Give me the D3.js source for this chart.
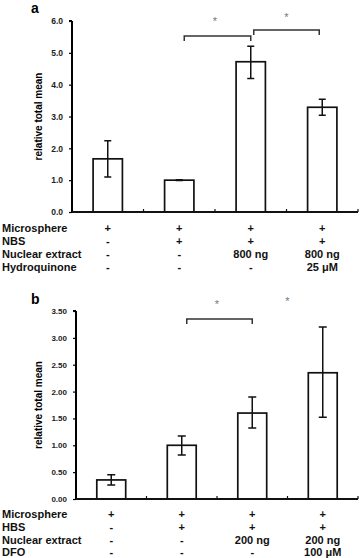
<!DOCTYPE html>
<html><head><meta charset="utf-8">
<script src="https://cdn.jsdelivr.net/npm/d3@7"></script>
<style>body{margin:0;background:#fff}svg{display:block;font-family:"Liberation Sans",Arial,sans-serif;font-weight:bold}</style>
</head><body><svg id="c" width="361" height="558"></svg>
<script>
// Panel a data
const aMeans = [1.67, 1.0, 4.72, 3.29];
const aErrLo = [1.10, 0.99, 4.19, 3.04];
const aErrHi = [2.24, 1.01, 5.21, 3.54];
const aTicks = [0, 1, 2, 3, 4, 5, 6];
const aRowNames = ["Microsphere", "NBS", "Nuclear extract", "Hydroquinone"];
const aRows = [["+","+","+","+"],["-","+","+","+"],["-","-","800 ng","800 ng"],["-","-","-","25 \u03bcM"]];
const aBrackets = [[1,2,5.53],[2,3,5.72]];
const aStars = [[1.5,6.03],[2.5,6.16]];
// Panel b data
const bMeans = [0.355, 1.0, 1.60, 2.35];
const bErrLo = [0.26, 0.82, 1.32, 1.52];
const bErrHi = [0.45, 1.175, 1.90, 3.20];
const bTicks = [0, 0.5, 1, 1.5, 2, 2.5, 3, 3.5];
const bRowNames = ["Microsphere", "HBS", "Nuclear extract", "DFO"];
const bRows = [["+","+","+","+"],["-","+","+","+"],["-","-","200 ng","200 ng"],["-","-","-","100 \u03bcM"]];
const bBrackets = [[1,2,3.35]];
const bStars = [[1.5,3.65],[2.5,3.71]];

const svg = d3.select("#c");

function panel(cfg){
  const g = svg.append("g");
  const x = d3.scaleBand().domain(d3.range(cfg.means.length)).range([cfg.x0, cfg.x1]);
  const y = d3.scaleLinear().domain([0, cfg.ymax]).range([cfg.yb, cfg.yt]);
  const bw = x.bandwidth()*0.41;
  const cx = i => x(i) + x.bandwidth()/2;
  // label
  g.append("text").attr("x", cfg.lx).attr("y", cfg.ly).attr("font-size", 14).text(cfg.label);
  // y axis
  const ya = g.append("g").attr("transform", `translate(${cfg.x0},0)`)
    .call(d3.axisLeft(y).tickValues(cfg.ticks).tickFormat(d3.format(cfg.fmt)).tickSize(3).tickPadding(6));
  ya.select(".domain").attr("stroke-width", 2).attr("d", `M0,${cfg.yb}V${cfg.yt}M-3,${cfg.yt}H0`);
  ya.selectAll("text").attr("font-size", cfg.tickFs).attr("font-family", "Liberation Sans, Arial").attr("font-weight", "bold").attr("fill", "#222");
  ya.selectAll("line").attr("stroke-width", 1.2);
  // y title
  g.append("text").attr("transform", `translate(${cfg.tx},${(cfg.yb+cfg.yt)/2}) rotate(-90)`)
    .attr("text-anchor", "middle").attr("font-size", 10).text("relative total mean");
  // bars
  g.selectAll("rect.bar").data(cfg.means).join("rect")
    .attr("x", (d,i) => cx(i)-bw/2).attr("y", d => y(d))
    .attr("width", bw).attr("height", d => cfg.yb - y(d))
    .attr("fill", "#fff").attr("stroke", "#111").attr("stroke-width", 1.7);
  // x axis
  const xa = g.append("g").attr("transform", `translate(0,${cfg.yb})`);
  xa.append("line").attr("x1", cfg.x0).attr("x2", cfg.x1).attr("stroke", "#111").attr("stroke-width", 2);
  xa.selectAll("line.t").data(d3.range(1, cfg.means.length+1)).join("line")
    .attr("x1", i => x(i-1)+x.bandwidth()).attr("x2", i => x(i-1)+x.bandwidth())
    .attr("y1", 0).attr("y2", -3).attr("stroke", "#111").attr("stroke-width", 1.2);
  // error bars
  const cap = cfg.cap;
  cfg.means.forEach((m,i) => {
    const c = cx(i);
    g.append("path").attr("fill","none").attr("stroke","#111").attr("stroke-width",1.5)
      .attr("d", `M${c},${y(cfg.lo[i])}V${y(cfg.hi[i])}M${c-cap/2},${y(cfg.hi[i])}H${c+cap/2}M${c-cap/2},${y(cfg.lo[i])}H${c+cap/2}`);
  });
  // brackets
  cfg.brackets.forEach(([a,b,v], k) => {
    const xa1 = cx(a) + (k===0 ? 5 : 3), xb1 = cx(b) - (k===0 ? 0 : 3);
    const yy = y(v);
    g.append("path").attr("fill","none").attr("stroke","#333").attr("stroke-width",1.5)
      .attr("d", `M${xa1},${yy+5}V${yy}H${xb1}V${yy+5}`);
  });
  cfg.stars.forEach(([p,v]) => {
    g.append("text").attr("x", x(0) + x.bandwidth()*(p+0.5)).attr("y", y(v)+5)
      .attr("text-anchor","middle").attr("font-size", 11).attr("font-weight","normal").attr("fill","#777").text("*");
  });
  // rows
  cfg.rowNames.forEach((n, r) => {
    const yy = cfg.rowY + r*cfg.rowStep;
    g.append("text").attr("x", 2).attr("y", yy).attr("font-size", 11).attr("fill","#111").text(n);
    cfg.rows[r].forEach((t, i) => {
      g.append("text").attr("x", cx(i)).attr("y", yy).attr("text-anchor","middle").attr("font-size", 11).attr("fill","#111").text(t);
    });
  });
}

panel({means:aMeans, lo:aErrLo, hi:aErrHi, ticks:aTicks, fmt:".1f", ymax:6, x0:72, x1:358, yb:212, yt:21,
  label:"a", lx:31, ly:13, tx:42, tickFs:8.5, cap:7, brackets:aBrackets, stars:aStars,
  rowNames:aRowNames, rows:aRows, rowY:231.5, rowStep:13});
panel({means:bMeans, lo:bErrLo, hi:bErrHi, ticks:bTicks, fmt:".2f", ymax:3.5, x0:76, x1:358, yb:499, yt:311,
  label:"b", lx:31, ly:304, tx:42, tickFs:8, cap:8, brackets:bBrackets, stars:bStars,
  rowNames:bRowNames, rows:bRows, rowY:518, rowStep:12.8});
</script></body></html>
